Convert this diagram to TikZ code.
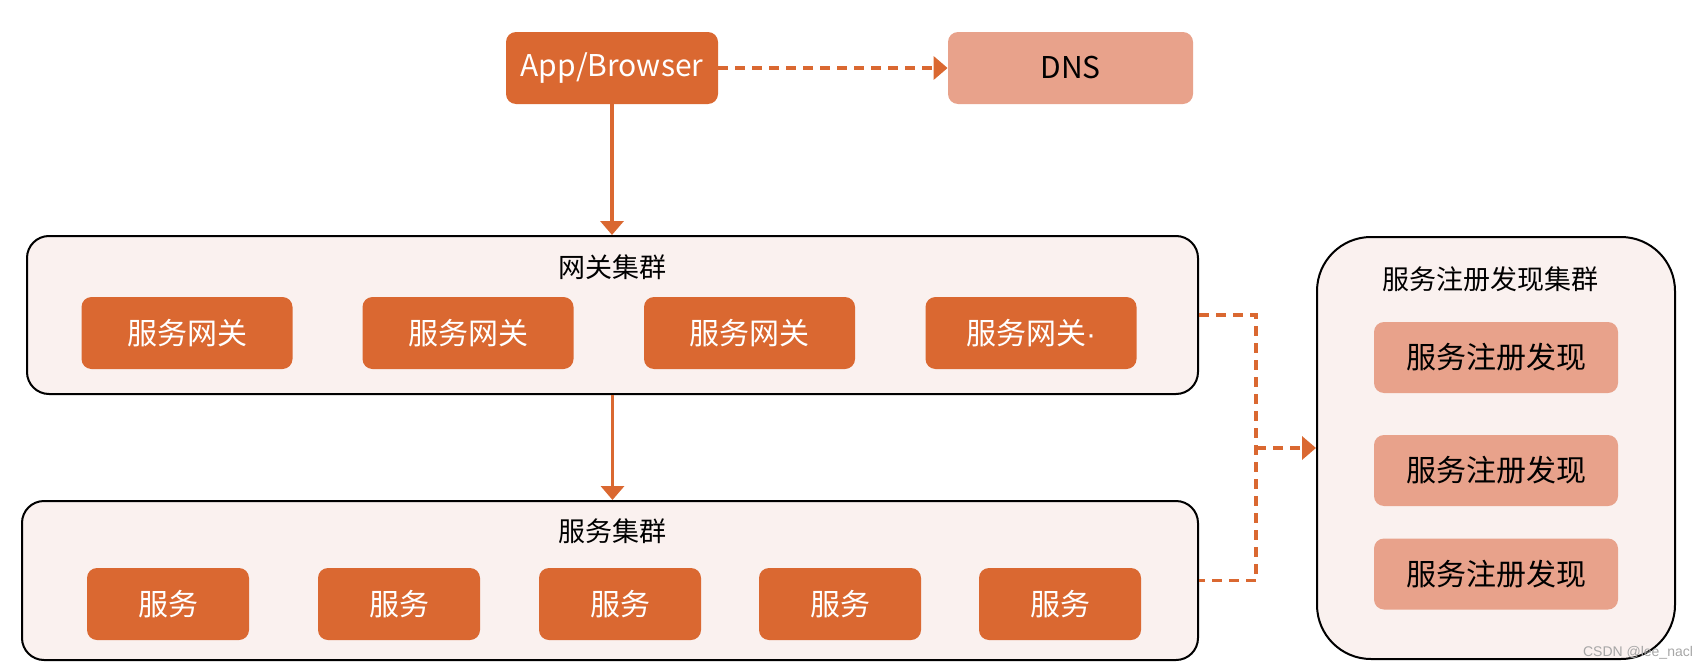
\documentclass[tikz,border=0pt]{standalone}
\usepackage{fontspec}
\setmainfont{Noto Sans CJK SC}
\newfontfamily\markfont{Liberation Sans}
\usetikzlibrary{arrows.meta}
\definecolor{rust}{HTML}{DA6831}
\definecolor{salmon}{HTML}{E8A28B}
\definecolor{blush}{HTML}{FAF1EF}

\begin{document}
\begin{tikzpicture}[x=0.5pt,y=-0.5pt,
  cluster/.style={draw=black,line width=1pt,fill=blush,rounded corners=11pt},
  darkbox/.style={fill=rust,text=white,rounded corners=5pt,minimum height=36pt,
    font=\fontsize{15}{18}\selectfont},
  lightbox/.style={fill=salmon,text=black,rounded corners=5pt,minimum height=36pt,
    font=\fontsize{15}{18}\selectfont},
  title/.style={font=\fontsize{13.5}{16}\selectfont},
  link/.style={draw=rust,line width=1.8pt,-{Triangle[length=7pt,width=11.5pt]}},
  dashlink/.style={link,dash pattern=on 5pt off 3.5pt}]
  \useasboundingbox (0,0) rectangle (1704,669);

  % clusters
  \node[cluster,minimum width=585.5pt,minimum height=79pt] (gwc) at (612.5,315) {};
  \node[cluster,minimum width=588pt,minimum height=79.5pt] (svcc) at (610,580.5) {};
  \node[cluster,rounded corners=27pt,minimum width=179pt,minimum height=211pt] (regc) at (1496,448) {};
  \node[title] (gwl) at (612,267) {网关集群};
  \node[title] (svcl) at (612,531) {服务集群};
  \node[title] (regl) at (1490,279) {服务注册发现集群};

  % client and dns
  \node[darkbox,minimum width=106pt] (app) at (612,68) {App/Browser};
  \node[lightbox,minimum width=122.5pt] (dns) at (1070.5,68) {DNS};

  % boxes inside the clusters
  \foreach \x/\t [count=\i] in {187/服务网关,468/服务网关,749.5/服务网关,1031/{服务网关{\markfont ·}}}{
    \node[darkbox,minimum width=105.5pt] (gw\i) at (\x,333) {\t};  }
  \foreach \x [count=\i] in {168,399,620,840,1060}{
    \node[darkbox,minimum width=81pt] (svc\i) at (\x,604) {服务};  }
  \foreach \y [count=\i] in {357.5,470.5,574}{
    \node[lightbox,minimum width=122pt,minimum height=35.5pt] (reg\i) at (1496,\y) {服务注册发现};  }

  % connectors
  \draw[dashlink] (app.east) -- (dns.west);
  \draw[link] (app.south) -- (app.south |- gwc.north);
  \draw[link] (gwc.south) -- (gwc.south |- svcc.north);
  \coordinate (bus) at (1256,448);
  \draw[dashlink,-] (gwc.east) -| (bus) |- (svcc.east);
  \draw[dashlink] (bus) -- (regc.west);

  \node[text=black!35,font=\markfont\fontsize{7}{8}\selectfont] (mark) at (1638,653) {CSDN @lee\_nacl};
\end{tikzpicture}
\end{document}
